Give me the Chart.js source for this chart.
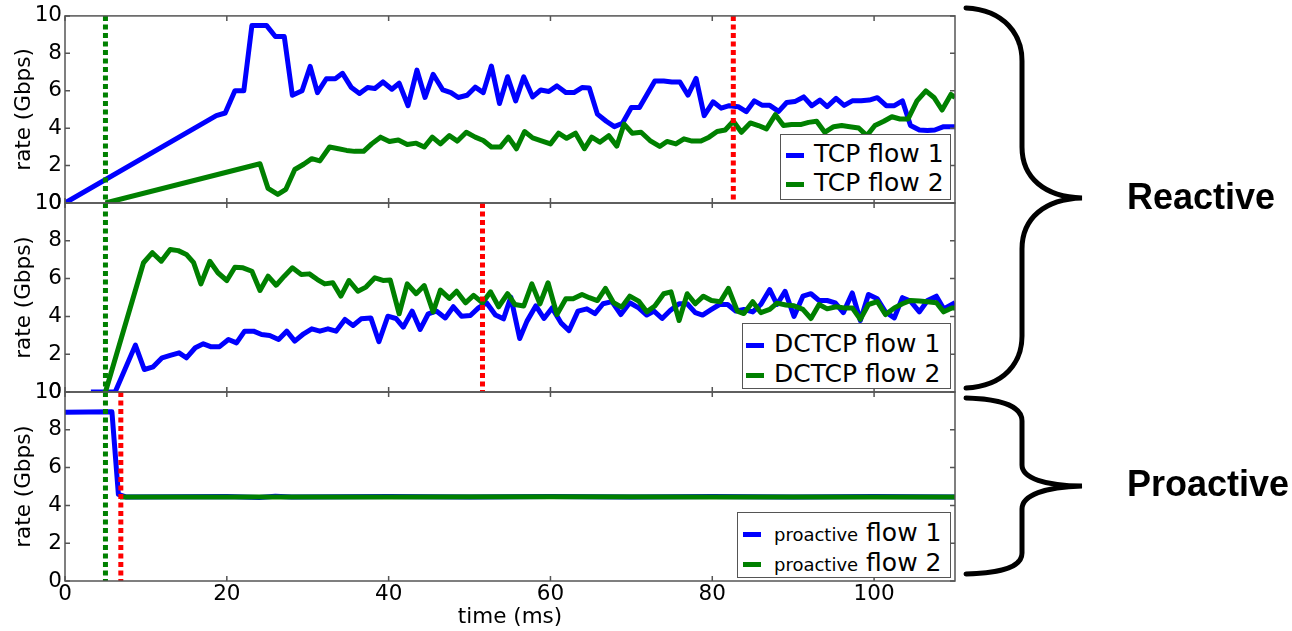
<!DOCTYPE html>
<html>
<head>
<meta charset="utf-8">
<script src="https://cdn.jsdelivr.net/npm/chart.js@4.4.0/dist/chart.umd.min.js"></script>
<style>
    body { margin: 0; background: #fff; width: 1292px; height: 631px; overflow: hidden; position: relative; font-family: "DejaVu Sans", sans-serif; }
    canvas { position: absolute; left: 0; top: 0; }
    .legend { position: absolute; box-sizing: border-box; border: 1.5px solid #555; background: #fff; font-size: 25px; color: #000; }
    .legend .row { position: absolute; left: 0; height: 30px; line-height: 30px; white-space: nowrap; }
    .legend .swatch { display: inline-block; width: 18px; height: 5px; vertical-align: middle; margin: 0 10px 0 5px; }
    .legend .small { font-size: 18px; }
    .side { position: absolute; left: 1127px; font-family: "Liberation Sans", Arial, sans-serif; font-weight: bold; font-size: 36px; line-height: 40px; color: #000; }
    svg { position: absolute; left: 0; top: 0; }
</style>
</head>
<body>
<canvas id="panel1" width="1292" height="631"></canvas>
<canvas id="panel2" width="1292" height="631"></canvas>
<canvas id="panel3" width="1292" height="631"></canvas>

<div class="legend" style="left:780px;top:134px;width:171px;height:66px;">
    <div class="row" style="top:4px;"><span class="swatch" style="background:#0000ff"></span>TCP flow 1</div>
    <div class="row" style="top:33px;"><span class="swatch" style="background:#008000"></span>TCP flow 2</div>
</div>
<div class="legend" style="left:742px;top:323px;width:209px;height:66px;">
    <div class="row" style="top:5px;"><span class="swatch" style="background:#0000ff;margin-left:3px"></span>DCTCP flow 1</div>
    <div class="row" style="top:35px;"><span class="swatch" style="background:#008000;margin-left:3px"></span>DCTCP flow 2</div>
</div>
<div class="legend" style="left:737px;top:512px;width:214px;height:66px;">
    <div class="row" style="top:5px;"><span class="swatch" style="background:#0000ff;margin-right:13px"></span><span class="small">proactive</span> flow 1</div>
    <div class="row" style="top:35px;"><span class="swatch" style="background:#008000;margin-right:13px"></span><span class="small">proactive</span> flow 2</div>
</div>

<svg width="1292" height="631">
    <path d="M 966 8 C 1005 10, 1022 35, 1022 61 L 1022 147 C 1022 178, 1045 197, 1082 198 C 1045 199, 1022 218, 1022 249 L 1022 336 C 1022 362, 1005 386, 966 388"
          fill="none" stroke="#000" stroke-width="5" stroke-linecap="round"/>
    <path d="M 966 398 C 1005 399, 1022 408, 1022 421 L 1022 465 C 1022 478, 1045 486, 1082 486 C 1045 487, 1022 495, 1022 509 L 1022 553 C 1022 566, 1005 573, 966 574"
          fill="none" stroke="#000" stroke-width="5" stroke-linecap="round"/>
</svg>
<div class="side" style="top:177px;">Reactive</div>
<div class="side" style="top:464px;">Proactive</div>

<script>
// axis ticks
var xTickValues = [0, 20, 40, 60, 80, 100];
var yTickValues = [0, 2, 4, 6, 8, 10];

// [time (ms), rate (Gbps)]
var tcpFlow1 = [[0,0],[18.7,4.67],[19.8,4.81],[21.0,6.0],[22.1,6.0],[23.1,9.49],[24.9,9.49],[26.0,8.9],[27.1,8.9],[28.1,5.76],
    [29.3,6.0],[30.3,7.3],[31.2,5.9],[32.3,6.64],[33.4,6.64],[34.3,6.93],[35.4,6.17],[36.4,5.85],[37.4,6.17],[38.3,6.12],
    [39.3,6.47],[40.4,6.08],[41.3,6.4],[42.4,5.2],[43.5,7.1],[44.5,5.64],[45.5,6.88],[46.7,6.04],[47.7,5.9],[48.6,5.64],
    [49.7,5.76],[50.7,6.19],[51.7,5.9],[52.7,7.32],[53.7,5.32],[54.7,6.75],[55.7,5.46],[56.7,6.74],[57.8,5.67],[58.8,6.04],
    [59.8,5.96],[60.8,6.26],[61.9,5.9],[62.9,5.9],[63.9,6.17],[64.8,6.15],[65.8,4.75],[66.9,4.37],[67.9,4.08],[68.9,4.26],
    [70.0,5.1],[71.0,5.1],[72.9,6.52],[74.0,6.52],[75.0,6.47],[76.0,6.47],[77.0,5.76],[78.0,6.66],[79.0,4.67],[80.1,5.41],
    [81.1,5.07],[82.1,5.2],[83.2,5.15],[84.2,4.88],[85.2,5.46],[86.2,5.22],[87.1,5.22],[88.2,4.9],[89.2,5.37],[90.2,5.42],
    [91.3,5.67],[92.3,5.2],[93.3,5.5],[94.2,5.15],[95.3,5.59],[96.3,5.22],[97.3,5.46],[98.4,5.46],[99.4,5.5],[100.4,5.63],
    [101.5,5.2],[102.5,5.2],[103.5,5.46],[104.5,4.14],[105.6,3.9],[106.6,3.87],[107.5,3.9],[108.6,4.08],[110,4.08]];
var tcpFlow2 = [[5,0],[24.1,2.1],[25.1,0.78],[26.3,0.46],[27.3,0.73],[28.4,1.79],[29.5,2.07],[30.5,2.37],[31.5,2.25],[32.7,2.99],
    [33.8,2.9],[34.8,2.81],[35.8,2.76],[36.9,2.76],[37.9,3.16],[39.0,3.52],[40.1,3.29],[41.2,3.37],[42.3,3.13],[43.4,3.2],
    [44.4,2.99],[45.4,3.52],[46.4,3.16],[47.5,3.6],[48.5,3.31],[49.6,3.78],[50.7,3.52],[51.7,3.34],[52.7,2.99],[53.8,2.99],
    [54.8,3.52],[55.8,2.9],[56.8,3.82],[57.8,3.48],[58.8,3.34],[60.0,3.16],[61.0,3.73],[62.0,3.46],[63.1,3.73],[64.2,2.9],
    [65.1,3.52],[66.1,3.25],[67.2,3.6],[68.2,3.04],[69.1,4.22],[70.1,3.73],[71.2,3.78],[72.3,3.34],[73.5,3.02],[74.4,3.29],
    [75.5,3.16],[76.5,3.43],[77.5,3.31],[78.6,3.31],[79.6,3.52],[80.6,3.82],[81.6,3.9],[82.6,4.37],[83.6,3.78],[84.7,4.28],
    [85.7,4.14],[86.7,3.96],[87.8,4.72],[88.8,4.14],[89.8,4.19],[90.9,4.19],[91.9,4.31],[92.9,4.37],[93.9,3.78],[95.0,4.08],
    [96.0,4.14],[97.0,4.08],[98.1,4.01],[99.1,3.6],[100.1,4.14],[101.2,4.37],[102.2,4.61],[103.2,4.49],[104.2,4.49],[105.3,5.46],
    [106.4,5.99],[107.4,5.64],[108.4,4.97],[109.5,5.8],[110,5.64]];
var dctcpFlow1 = [[3.2,0],[6.2,0],[8.7,2.48],[9.8,1.19],[10.9,1.33],[12.0,1.81],[13.0,1.94],[14.1,2.07],[15.0,1.81],[16.1,2.34],
    [17.1,2.55],[18.0,2.4],[19.1,2.4],[20.2,2.78],[21.2,2.6],[22.2,3.22],[23.3,3.22],[24.3,3.04],[25.3,2.99],[26.4,2.78],
    [27.4,3.22],[28.4,2.69],[29.5,3.08],[30.5,3.34],[31.5,3.22],[32.5,3.34],[33.5,3.22],[34.6,3.84],[35.6,3.52],[36.6,3.87],
    [37.8,3.92],[38.8,2.66],[39.9,4.01],[40.9,3.89],[41.8,3.43],[42.9,4.28],[43.9,3.31],[44.9,4.14],[45.9,4.28],[47.0,3.92],
    [48.0,4.51],[49.0,4.01],[50.1,4.05],[51.1,4.45],[52.1,4.72],[53.2,4.07],[54.2,3.87],[55.1,5.02],[56.2,2.83],[57.1,3.75],
    [58.2,4.56],[59.2,3.89],[60.2,4.45],[61.3,3.66],[62.3,3.25],[63.4,4.28],[64.5,4.4],[65.5,4.15],[66.5,4.67],[67.6,4.78],
    [68.7,4.1],[69.8,4.72],[70.9,4.45],[71.9,4.07],[72.8,4.28],[73.8,3.89],[74.8,4.31],[75.9,4.67],[76.9,4.67],[77.9,4.2],
    [78.8,4.07],[79.9,4.37],[80.9,4.63],[81.9,4.63],[82.9,4.28],[83.9,4.37],[85.0,4.24],[86.0,4.63],[87.1,5.42],[88.0,4.63],
    [89.0,5.33],[90.1,4.0],[91.2,5.07],[92.2,5.2],[93.2,4.84],[94.2,4.84],[95.2,4.72],[96.2,4.2],[97.3,5.24],[98.3,3.78],
    [99.3,5.16],[100.4,4.93],[101.4,4.24],[102.5,3.92],[103.5,4.99],[104.5,4.81],[105.6,4.24],[106.6,4.84],[107.7,5.07],[108.6,4.4],
    [110,4.72]];
var dctcpFlow2 = [[5,0],[9.7,6.84],[10.8,7.37],[11.9,6.92],[13.0,7.54],[14.0,7.48],[15.0,7.28],[15.9,6.84],[16.8,5.72],[17.9,6.92],
    [18.9,6.31],[20.0,5.9],[21.0,6.6],[22.0,6.57],[23.1,6.39],[24.1,5.37],[25.1,6.13],[26.1,5.65],[27.1,6.13],[28.1,6.57],
    [29.2,6.22],[30.2,6.25],[31.2,5.95],[32.1,5.72],[33.1,5.78],[34.1,5.07],[35.1,5.9],[36.2,5.33],[37.2,5.55],[38.3,6.04],
    [39.3,5.9],[40.2,5.92],[41.3,4.14],[42.3,5.72],[43.4,5.2],[44.4,5.63],[45.5,4.24],[46.4,5.39],[47.5,4.95],[48.4,5.33],
    [49.5,4.72],[50.5,5.11],[51.6,4.72],[52.6,5.3],[53.6,4.51],[54.7,5.2],[55.6,4.63],[56.7,4.55],[57.7,5.72],[58.7,4.66],
    [59.7,5.78],[60.8,4.1],[61.9,4.93],[62.8,4.93],[63.9,5.16],[64.8,4.99],[65.8,4.84],[66.8,5.48],[67.8,4.72],[68.8,4.49],
    [69.8,5.07],[70.9,4.81],[71.9,4.24],[72.9,4.55],[74.0,5.2],[74.9,5.3],[75.9,3.78],[76.9,5.2],[77.9,4.67],[78.9,5.07],
    [79.9,4.84],[81.0,4.78],[82.0,5.48],[83.1,4.28],[83.9,4.15],[85.0,4.78],[86.0,4.2],[87.1,4.37],[88.0,4.7],[89.1,4.6],
    [90.1,4.56],[91.2,4.37],[92.2,3.89],[93.2,4.63],[94.2,4.4],[95.3,4.51],[96.3,4.45],[97.3,4.45],[98.3,3.84],[99.3,4.63],
    [100.4,4.78],[101.4,4.1],[102.5,4.45],[103.5,4.67],[104.5,4.84],[105.6,4.81],[106.6,4.78],[107.7,4.72],[108.6,4.24],[109.6,4.45],
    [110,4.45]];
var proactiveFlow1 = [[0,8.93],[5.8,8.95],[6.6,4.58],[7.5,4.45],[20,4.47],[24,4.42],[26,4.48],[28,4.45],[40,4.47],[50,4.44],
    [60,4.47],[70,4.44],[80,4.47],[90,4.44],[100,4.47],[110,4.45]];
var proactiveFlow2 = [[6.8,4.45],[20,4.45],[40,4.44],[60,4.46],[80,4.45],[100,4.45],[110,4.45]];

// green dotted = flow 2 start, red dotted = convergence (ms)
var flow2Start = [5, 5, 5];
var convergeTime = [82.6, 51.6, 6.9];

var frameTicks = {
    id: 'frameTicks',
    afterDraw: function (chart) {
        var ctx = chart.ctx, a = chart.chartArea;
        var xs = chart.scales.x, ys = chart.scales.y;
        ctx.save();
        ctx.strokeStyle = '#555';
        ctx.lineWidth = 1.5;
        ctx.strokeRect(a.left, a.top, a.right - a.left, a.bottom - a.top);
        ctx.beginPath();
        xTickValues.forEach(function (v) {
            var px = xs.getPixelForValue(v);
            ctx.moveTo(px, a.top); ctx.lineTo(px, a.top + 5);
            ctx.moveTo(px, a.bottom); ctx.lineTo(px, a.bottom - 5);
        });
        yTickValues.forEach(function (v) {
            var py = ys.getPixelForValue(v);
            ctx.moveTo(a.left, py); ctx.lineTo(a.left + 5, py);
            ctx.moveTo(a.right, py); ctx.lineTo(a.right - 5, py);
        });
        ctx.stroke();
        ctx.restore();
    }
};

function toPoints(arr) {
    return arr.map(function (p) { return { x: p[0], y: p[1] }; });
}

function marker(x, color) {
    return {
        data: toPoints([[x, 10], [x, 0]]),
        borderColor: color,
        borderDash: [5, 3.5],
        borderCapStyle: 'butt',
        order: -1
    };
}

function makePanel(id, top, bottom, flow1, flow2, i, showX) {
    var font = { family: 'DejaVu Sans', size: 21.5 };
    return new Chart(document.getElementById(id), {
        type: 'line',
        data: {
            datasets: [
                marker(convergeTime[i], '#ff0000'),
                marker(flow2Start[i], '#008000'),
                { data: toPoints(flow2), borderColor: '#008000', order: 0 },
                { data: toPoints(flow1), borderColor: '#0000ff', order: 1 }
            ]
        },
        options: {
            responsive: false,
            animation: false,
            layout: { padding: { left: 0, right: 337, top: top, bottom: showX ? 0 : 631 - bottom } },
            plugins: { legend: { display: false }, tooltip: { enabled: false } },
            elements: {
                point: { radius: 0 },
                line: { borderWidth: 5, tension: 0, borderJoinStyle: 'round' }
            },
            scales: {
                x: {
                    type: 'linear', min: 0, max: 110, display: showX,
                    afterBuildTicks: function (s) { s.ticks = xTickValues.map(function (v) { return { value: v }; }); },
                    afterFit: function (s) { if (showX) s.height = 631 - bottom; },
                    grid: { display: false, drawTicks: false },
                    border: { display: false },
                    ticks: { color: '#000', font: font, padding: 1, maxRotation: 0 },
                    title: { display: true, text: 'time (ms)', color: '#000', font: font, padding: { top: 0, bottom: 1 } }
                },
                y: {
                    min: 0, max: 10,
                    afterBuildTicks: function (s) { s.ticks = yTickValues.map(function (v) { return { value: v }; }); },
                    afterFit: function (s) { s.width = 65; },
                    grid: { display: false, drawTicks: false },
                    border: { display: false },
                    ticks: { color: '#000', font: font, padding: 3 },
                    title: { display: true, text: 'rate (Gbps)', color: '#000', font: font, padding: { top: 12, bottom: 0 } }
                }
            }
        },
        plugins: [frameTicks]
    });
}

makePanel('panel1', 14, 203, tcpFlow1, tcpFlow2, 0, false);
makePanel('panel2', 203, 392, dctcpFlow1, dctcpFlow2, 1, false);
makePanel('panel3', 392, 581, proactiveFlow1, proactiveFlow2, 2, true);
</script>
</body>
</html>
